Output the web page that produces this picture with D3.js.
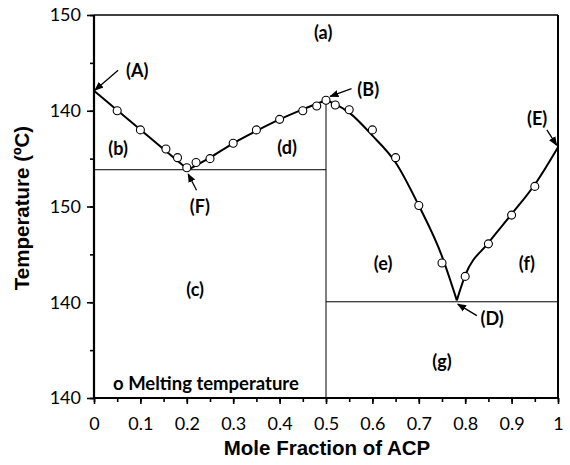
<!DOCTYPE html>
<html><head><meta charset="utf-8">
<script src="https://cdn.jsdelivr.net/npm/d3@7"></script>
<style>body{margin:0;background:#fff}svg{display:block}</style>
</head><body>
<svg id="c" width="570" height="465"></svg>
<script>
// ---- data ----
const xTickValues = [0,0.1,0.2,0.3,0.4,0.5,0.6,0.7,0.8,0.9,1];
const xTickLabels = ["0","0.1","0.2","0.3","0.4","0.5","0.6","0.7","0.8","0.9","1"];
const yTickValues = [110,120,130,140,150];
const yTickLabels = ["140","140","150","140","150"];
const meltX = [0.05,0.1,0.155,0.18,0.2,0.22,0.25,0.3,0.35,0.4,0.45,0.48,0.5,0.52,0.55,0.6,0.65,0.7,0.75,0.8,0.85,0.9,0.95];
const meltT = [140.0,138.0,136.0,135.1,134.05,134.6,135.0,136.6,138.0,139.1,140.0,140.5,141.1,140.6,140.1,138.0,135.1,130.1,124.1,122.7,126.1,129.1,132.1];
const curveAFX = [0,0.203];
const curveAFT = [142.1,133.84];
const curveFBX = [0.203,0.25,0.3,0.35,0.4,0.45,0.5];
const curveFBT = [133.84,135.1,136.6,137.9,139.1,140.15,141.1];
const curveBDX = [0.5,0.52,0.55,0.6,0.65,0.7,0.75,0.782];
const curveBDT = [141.1,140.7,139.8,137.4,134.6,130.1,124.8,120.2];
const curveDEX = [0.782,0.8,0.85,0.9,0.95,1.0];
const curveDET = [120.2,122.8,126.2,129.2,132.3,136.2];
const eutecticLeftT = 133.84, eutecticRightT = 120.05, peritecticX = 0.5;
const regionLabels = ["(a)","(A)","(B)","(E)","(b)","(d)","(F)","(c)","(e)","(f)","(D)","(g)"];
const regionLabelX = [0.494,0.093,0.591,0.955,0.052,0.416,0.228,0.218,0.623,0.933,0.858,0.750];
const regionLabelT = [148.2,144.24,142.25,139.21,136.07,136.18,130.1,121.41,124.13,124.13,118.4,113.9];
const arrowFromX = [0.052,0.555,0.976,0.221,0.825];
const arrowFromT = [144.24,142.3,138.0,131.7,118.6];
const arrowToX = [0.002,0.509,0.997,0.203,0.784];
const arrowToT = [142.15,141.5,136.4,133.4,119.8];
const legendText = "o Melting temperature";
const legendX = 0.041, legendT = 111.57;
const xTitle = "Mole Fraction of ACP";
const yTitle = "Temperature (ºC)";

// ---- drawing ----
const svg = d3.select("#c");
const x = d3.scaleLinear().domain([0,1]).range([94,558]);
const y = d3.scaleLinear().domain([110,150]).range([398,15]);
const font = "Lato, 'Open Sans', sans-serif";
const titleFont = "'Liberation Sans', Arial, sans-serif";

svg.append("defs").append("marker").attr("id","ah").attr("viewBox","0 0 10 10")
  .attr("refX",9).attr("refY",5).attr("markerWidth",7).attr("markerHeight",7)
  .attr("orient","auto").append("path").attr("d","M0,1 L10,5 L0,9 Z").attr("fill","#000");

// frame
svg.append("line").attr("x1",x(0)).attr("x2",x(1)).attr("y1",y(150)).attr("y2",y(150)).attr("stroke","#000").attr("stroke-width",1.5);
svg.append("line").attr("x1",x(1)).attr("x2",x(1)).attr("y1",y(150)).attr("y2",y(110)).attr("stroke","#000").attr("stroke-width",2);

// x axis
const xMinor = d3.range(0,21).map(i=>i*0.05);
const gx = svg.append("g").attr("transform",`translate(0,${y(110)})`);
gx.call(d3.axisBottom(x).tickValues(xMinor).tickSize(4).tickFormat(""));
gx.call(g=>g.select(".domain").remove());
const gx2 = svg.append("g").attr("transform",`translate(0,${y(110)})`);
gx2.call(d3.axisBottom(x).tickValues(xTickValues).tickSize(6).tickPadding(13).tickFormat((d,i)=>xTickLabels[i]));
gx2.select(".domain").attr("stroke-width",2.2).attr("d",`M${x(0)},0H${x(1)}`);
gx2.selectAll("text").attr("font-family",font).attr("font-size",18).attr("fill","#000");
svg.selectAll("g line").attr("stroke-width",1.6);

// y axis
const yMinor = d3.range(110,151,5);
const gy = svg.append("g").attr("transform",`translate(${x(0)},0)`);
gy.call(d3.axisLeft(y).tickValues(yMinor).tickSize(4).tickFormat(""));
gy.call(g=>g.select(".domain").remove());
const gy2 = svg.append("g").attr("transform",`translate(${x(0)},0)`);
gy2.call(d3.axisLeft(y).tickValues(yTickValues).tickSize(7).tickPadding(6).tickFormat((d,i)=>yTickLabels[i]));
gy2.select(".domain").attr("stroke-width",2.2).attr("d",`M0,${y(110)}V${y(150)}`);
gy2.selectAll("text").attr("font-family",font).attr("font-size",18).attr("fill","#000");
svg.selectAll("g line").attr("stroke-width",1.6);

// boundary lines
svg.append("line").attr("x1",x(0)).attr("x2",x(0.5)).attr("y1",y(eutecticLeftT)).attr("y2",y(eutecticLeftT)).attr("stroke","#000").attr("stroke-width",1);
svg.append("line").attr("x1",x(0.5)).attr("x2",x(1)).attr("y1",y(eutecticRightT)).attr("y2",y(eutecticRightT)).attr("stroke","#000").attr("stroke-width",1);
svg.append("line").attr("x1",x(peritecticX)).attr("x2",x(peritecticX)).attr("y1",y(141.1)).attr("y2",y(110)).attr("stroke","#000").attr("stroke-width",1);

// curves
const line = d3.line().x(d=>x(d[0])).y(d=>y(d[1]));
const curves = [[curveAFX,curveAFT,d3.curveLinear],[curveFBX,curveFBT,d3.curveMonotoneX],[curveBDX,curveBDT,d3.curveMonotoneX],[curveDEX,curveDET,d3.curveMonotoneX]];
curves.forEach(([cx,ct,cv])=>{
  svg.append("path").datum(cx.map((v,i)=>[v,ct[i]])).attr("d",line.curve(cv)).attr("fill","none").attr("stroke","#000").attr("stroke-width",2);
});

// points
svg.append("g").selectAll("circle").data(meltX.map((v,i)=>[v,meltT[i]])).join("circle")
  .attr("cx",d=>x(d[0])).attr("cy",d=>y(d[1])).attr("r",4)
  .attr("fill","#fff").attr("stroke","#000").attr("stroke-width",1.1);

// arrows
arrowFromX.forEach((v,i)=>{
  svg.append("line").attr("x1",x(v)).attr("y1",y(arrowFromT[i])).attr("x2",x(arrowToX[i])).attr("y2",y(arrowToT[i]))
    .attr("stroke","#000").attr("stroke-width",1.3).attr("marker-end","url(#ah)");
});

// labels
svg.append("g").selectAll("text").data(regionLabels).join("text")
  .attr("x",(d,i)=>x(regionLabelX[i])).attr("y",(d,i)=>y(regionLabelT[i]))
  .attr("text-anchor","middle").attr("dominant-baseline","central")
  .attr("font-family",font).attr("font-weight","bold").attr("font-size",18).text(d=>d);

svg.append("text").attr("x",x(legendX)).attr("y",y(legendT)).attr("dominant-baseline","central")
  .attr("font-family",font).attr("font-weight","bold").attr("font-size",18.5).text(legendText);

// titles
svg.append("text").attr("x",327).attr("y",455).attr("text-anchor","middle")
  .attr("font-family",titleFont).attr("font-weight","bold").attr("font-size",20.5).text(xTitle);
svg.append("text").attr("transform","translate(29,208) rotate(-90)").attr("text-anchor","middle")
  .attr("font-family",titleFont).attr("font-weight","bold").attr("font-size",20.5).text(yTitle);
</script>
</body></html>
